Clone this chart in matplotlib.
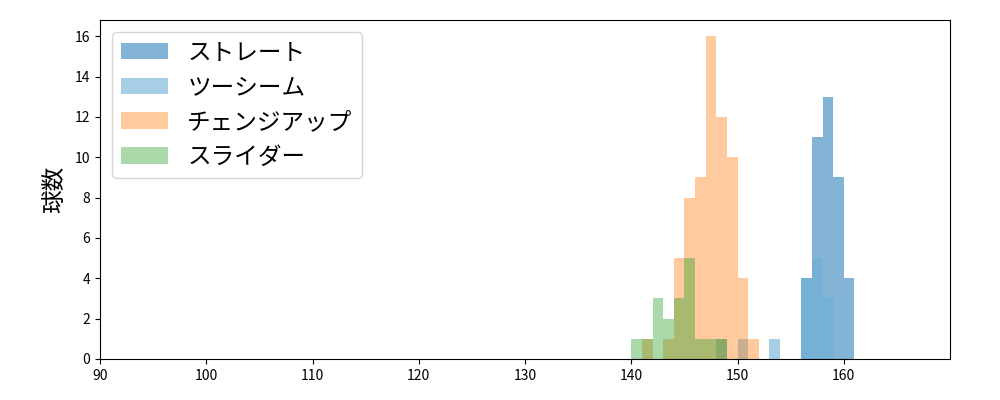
import numpy as np
import matplotlib
matplotlib.use("Agg")
import matplotlib.pyplot as plt

plt.rcParams['font.family'] = ['Noto Sans CJK JP', 'DejaVu Sans']

# 球速ビン (1km/h 刻み)
bins = np.arange(140, 162)

# 球種ごとの本数 (ビン 140-141 ... 160-161)
straight = [0]*16 + [4, 11, 13, 9, 4]
twoseam = [0]*8 + [1, 0, 1, 0, 0, 1, 0, 0, 4, 5, 3, 0, 0]
changeup = [0, 1, 0, 1, 5, 8, 9, 16, 12, 10, 4, 1] + [0]*9
slider = [1, 1, 3, 2, 3, 5, 1, 1, 1] + [0]*12

labels = ['ストレート', 'ツーシーム', 'チェンジアップ', 'スライダー']
series = [straight, twoseam, changeup, slider]
colors = [('#1f77b4', 0.55), ('#6baed6', 0.6), ('#ff7f0e', 0.4), ('#2ca02c', 0.4)]

fig, ax = plt.subplots(figsize=(10, 4), dpi=100)
fig.subplots_adjust(left=0.1, right=0.95, top=0.95, bottom=0.1025)

for lab, cnt, (c, a) in zip(labels, series, colors):
    ax.hist(bins[:-1], bins=bins, weights=cnt, color=c, alpha=a, label=lab)

ax.set_xlim(90, 170)
ax.set_xticks(np.arange(90, 170, 10))
ax.set_ylabel('球数', fontsize=17, labelpad=6)
ax.legend(loc='upper left', fontsize=17)

fig.savefig('out.png')
